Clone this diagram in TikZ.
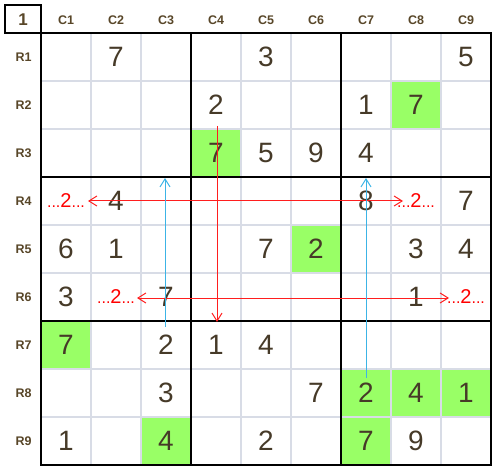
\documentclass[tikz,border=0pt]{standalone}
\usepackage{fontspec}
\setmainfont{Liberation Sans}
\usetikzlibrary{arrows.meta}
\definecolor{MyGreen}{RGB}{153,255,102}
\definecolor{MyGridGrey}{RGB}{216,220,230}
\definecolor{MyBrown}{RGB}{70,58,40}
\definecolor{MyLabel}{RGB}{88,70,40}
\definecolor{MyRed}{RGB}{255,30,30}
\definecolor{MyBlue}{RGB}{60,180,230}
\newcommand{\candtwo}{{\fontsize{16}{16}\selectfont...}{\fontsize{20}{20}\selectfont 2}{\fontsize{16}{16}\selectfont...}}

\begin{document}
\begin{tikzpicture}[x=1pt,y=-1pt,
    digit/.style={font=\fontsize{28}{30}\selectfont, text=MyBrown, inner sep=0pt},
    header/.style={font=\fontsize{12.5}{14}\selectfont\bfseries, text=MyLabel, inner sep=0pt},
    candidate/.style={text=red, inner sep=0pt},
    thin grid/.style={draw=MyGridGrey, line width=2pt},
    box line/.style={draw=black, line width=2.5pt, line cap=rect},
    barb/.tip={Straight Barb[length=8pt,width=10pt]},
    red link/.style={draw=MyRed, line width=1pt},
    blue link/.style={draw=MyBlue, line width=1pt}]
  \useasboundingbox (0,0) rectangle (497,470);
  % green cells
  \foreach \r/\c in {2/8,3/4,5/6,7/1,8/7,8/8,8/9,9/3,9/7}
    \fill[MyGreen] ({41+50*(\c-1)},{33+48*(\r-1)}) rectangle +(50,48);
  % light grid
  \foreach \i in {1,2,4,5,7,8} {
    \draw[thin grid] ({41+50*\i},33) -- ({41+50*\i},465);
    \draw[thin grid] (41,{33+48*\i}) -- (491,{33+48*\i});
  }
  % boxes
  \draw[box line] (5,5) rectangle (41,33);
  \draw[box line] (5,33) -- (491,33);
  \draw[box line] (41,5) -- (41,465);
  \foreach \i in {3,6,9} {
    \draw[box line] ({41+50*\i},33) -- ({41+50*\i},465);
    \draw[box line] (41,{33+48*\i}) -- (491,{33+48*\i});
  }
  % labels
  \node[header, font=\fontsize{17}{18}\selectfont\bfseries] (corner) at (23,19.5) {1};
  \foreach \c in {1,...,9}
    \node[header] (col-\c) at ({66+50*(\c-1)},20.5) {C\c};
  \foreach \r in {1,...,9}
    \node[header] (row-\r) at (23.5,{57+48*(\r-1)}) {R\r};
  % givens
  \foreach \r/\c/\v in {1/2/7,1/5/3,1/9/5,
      2/4/2,2/7/1,2/8/7,
      3/4/7,3/5/5,3/6/9,3/7/4,
      4/2/4,4/7/8,4/9/7,
      5/1/6,5/2/1,5/5/7,5/6/2,5/8/3,5/9/4,
      6/1/3,6/3/7,6/8/1,
      7/1/7,7/3/2,7/4/1,7/5/4,
      8/3/3,8/6/7,8/7/2,8/8/4,8/9/1,
      9/1/1,9/3/4,9/5/2,9/7/7,9/8/9}
    \node[digit] (cell-\r-\c) at ({66+50*(\c-1)},{57+48*(\r-1)}) {\v};
  % candidates
  \foreach \r/\c in {4/1,4/8,6/2,6/9}
    \node[candidate] (cand-\r-\c) at ({66+50*(\c-1)},{57+48*(\r-1)}) {\candtwo};
  % links
  \coordinate (c4-top) at (217,126);
  \coordinate (c4-end) at (217,322);
  \coordinate (r4-west) at (88,201);
  \coordinate (r4-east) at (403,201);
  \coordinate (r6-west) at (137,298);
  \coordinate (r6-east) at (449,298);
  \coordinate (c3-start) at (165,327);
  \coordinate (c3-end) at (165,178);
  \coordinate (c7-start) at (366,378);
  \coordinate (c7-end) at (366,178);
  \draw[red link, -barb] (c4-top) -- (c4-end);
  \draw[red link, barb-barb] (r4-west) -- (r4-east);
  \draw[red link, barb-barb] (r6-west) -- (r6-east);
  \draw[blue link, -barb] (c3-start) -- (c3-end);
  \draw[blue link, -barb] (c7-start) -- (c7-end);
\end{tikzpicture}
\end{document}
